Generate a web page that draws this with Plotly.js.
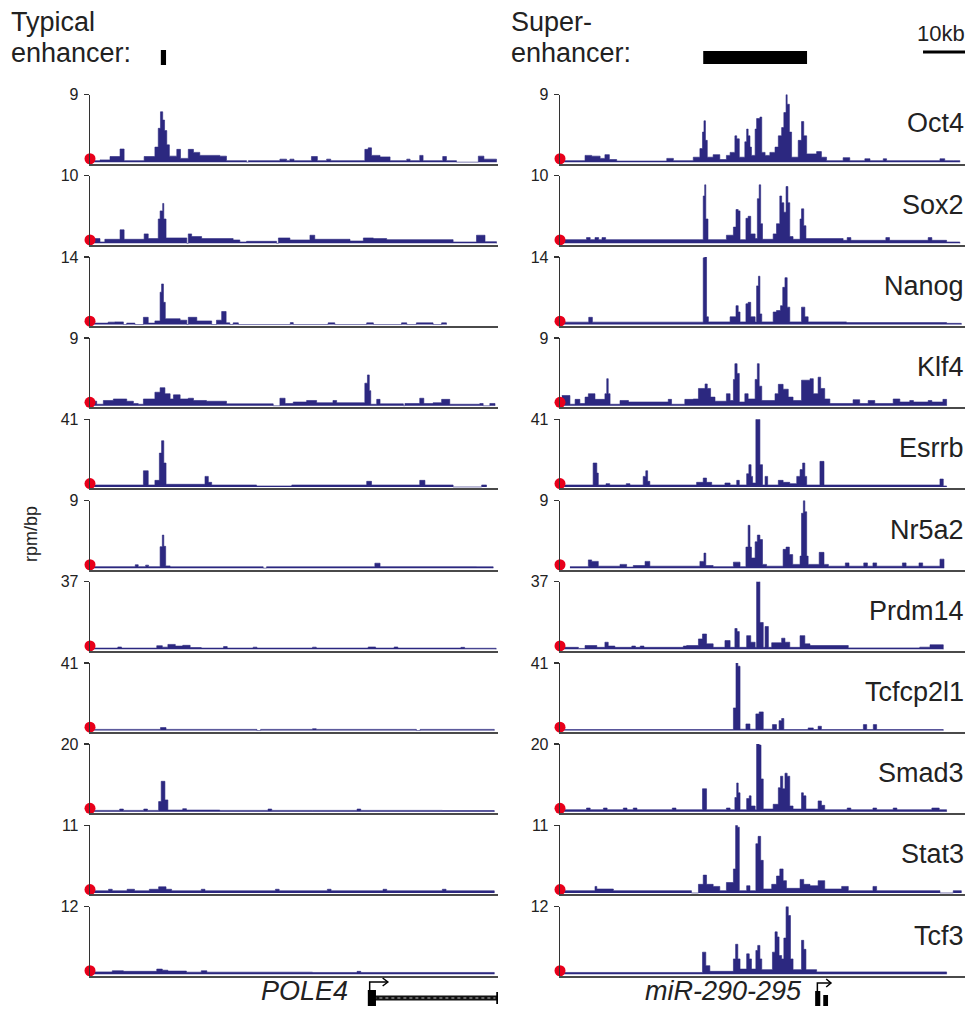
<!DOCTYPE html>
<html><head><meta charset="utf-8">
<script src="https://cdn.plot.ly/plotly-3.0.1.min.js"></script>
<style>html,body{margin:0;padding:0;background:#fff}#chart{width:969px;height:1021px}</style>
</head><body><div id="chart"></div>
<script>
// ---------- DATA ----------
const factors = ['Oct4','Sox2','Nanog','Klf4','Esrrb','Nr5a2','Prdm14','Tcfcp2l1','Smad3','Stat3','Tcf3'];
const yMax = [9,10,14,9,41,9,37,41,20,11,12];
// signal as step segments: [start, end, rpm/bp, ...] (x in genomic units, 0-110 per panel)
const L_oct4 = [0.9,2.7,0.2, 2.7,5.4,0.3, 5.4,8.1,0.75, 8.1,9.2,1.75, 9.2,14.6,0.2, 14.6,17.5,0.75, 17.5,18.4,2.0, 18.4,19.0,4.5, 19.0,19.6,6.7, 19.6,20.1,5.6, 20.1,20.7,4.2, 20.7,21.4,2.3, 21.4,23.4,0.8, 23.4,24.4,1.7, 24.4,26.5,0.5, 26.5,27.9,1.7, 27.9,29.6,1.3, 29.6,35.0,0.9, 35.0,36.8,0.8, 36.8,42.2,0.2, 42.7,51.2,0.2, 51.2,53.0,0.4, 53.0,53.9,0.2, 53.9,55.0,0.4, 55.0,59.7,0.2, 59.7,61.3,0.75, 61.3,63.8,0.2, 63.8,64.9,0.4, 64.9,74.1,0.2, 74.1,75.0,1.7, 75.0,75.9,1.9, 75.9,78.2,0.9, 78.2,80.9,0.7, 80.9,85.4,0.2, 85.4,86.3,0.4, 86.3,88.9,0.2, 88.9,89.8,0.9, 89.8,95.1,0.2, 95.1,96.1,0.75, 96.1,98.8,0.2, 104.7,106.2,0.8, 106.2,109.6,0.4];
const L_sox2 = [0.2,1.3,0.4, 1.3,2.7,0.7, 2.7,4.0,0.2, 4.0,8.1,0.6, 8.1,9.2,2.0, 9.2,14.6,0.6, 14.6,15.7,1.4, 15.7,18.4,0.7, 18.4,18.9,3.6, 18.9,19.6,4.8, 19.6,19.9,5.9, 19.9,20.5,3.6, 20.5,26.1,0.8, 26.5,27.4,1.4, 27.4,30.1,1.0, 30.1,38.6,0.7, 38.6,40.4,0.5, 40.4,42.2,0.2, 42.2,50.3,0.3, 50.8,53.9,0.8, 53.9,59.3,0.5, 59.3,60.6,1.2, 60.6,70.1,0.6, 70.1,73.7,0.35, 73.7,76.4,0.8, 76.4,80.0,0.7, 80.0,97.9,0.55, 97.9,104.2,0.2, 104.2,106.5,1.2, 106.5,109.6,0.25];
const L_nanog = [0.2,4.9,0.3, 4.9,6.7,0.5, 6.7,9.0,0.55, 9.9,12.1,0.3, 14.4,15.7,1.5, 15.7,17.5,0.3, 17.5,18.9,0.75, 18.9,19.3,6.7, 19.3,19.8,8.4, 19.8,20.3,4.6, 20.3,24.3,1.2, 24.3,26.1,0.9, 26.5,28.8,1.5, 28.8,32.8,0.75, 34.1,35.5,0.9, 35.5,36.7,2.7, 36.7,37.7,0.35, 38.6,40.0,0.35, 54.0,54.8,0.4, 64.2,66.0,0.35, 74.6,76.4,0.35, 84.0,85.4,0.35, 88.0,92.5,0.35, 94.8,96.1,0.35];
const L_klf4 = [0.2,1.8,0.6, 1.8,3.6,0.2, 3.6,6.3,0.7, 6.3,9.9,0.9, 9.9,11.7,0.6, 11.7,13.0,0.3, 13.0,14.4,0.2, 14.4,17.5,0.9, 17.5,18.9,1.8, 18.9,20.2,2.4, 20.2,21.6,1.6, 21.6,22.5,0.9, 22.5,24.3,1.45, 24.3,26.5,0.9, 26.5,27.9,1.0, 27.9,31.4,0.7, 31.4,36.8,0.6, 36.8,49.4,0.25, 51.2,52.6,1.0, 52.6,54.8,0.3, 54.8,58.4,0.5, 58.4,61.1,0.7, 61.1,74.1,0.4, 65.5,66.5,0.7, 74.1,74.8,3.0, 74.8,75.3,4.1, 75.3,75.7,2.0, 75.7,77.3,0.2, 77.3,78.2,0.85, 78.2,84.5,0.25, 84.9,88.9,0.3, 88.9,90.0,1.0, 90.0,92.5,0.3, 92.5,94.8,0.4, 94.8,97.0,0.85, 97.0,105.1,0.2, 105.1,106.0,0.3, 107.8,109.2,0.3];
const L_esrrb = [0.2,14.4,1.2, 14.4,15.7,9.8, 15.7,17.5,1.2, 17.5,18.7,4.0, 18.7,19.3,20.5, 19.3,19.9,28, 19.9,20.5,14.5, 20.5,31.0,1.6, 31.0,31.9,6.4, 31.9,32.8,2.8, 32.8,44.9,1.2, 44.9,54.4,0.6, 54.4,74.6,1.2, 74.6,75.9,3.4, 75.9,88.9,1.2, 88.9,90.3,4.0, 90.3,97.9,1.2, 105.6,106.9,1.2];
const L_nr5a2 = [0.4,18.9,0.2, 12.2,13.0,0.45, 15.0,15.8,0.4, 18.9,19.5,2.85, 19.5,19.9,4.4, 19.9,20.4,2.9, 20.4,21.6,0.3, 21.6,46.7,0.18, 47.6,76.8,0.18, 76.8,78.2,0.66, 78.2,104.2,0.2, 104.2,108.7,0.18];
const L_prdm14 = [0.5,18.0,0.7, 7.5,8.5,1.3, 18.0,19.5,2.0, 19.5,21.0,1.2, 21.0,23.0,2.7, 23.0,25.0,1.8, 25.0,27.0,2.2, 27.0,30.0,1.0, 30.0,36.0,0.7, 36.0,37.0,1.5, 37.0,44.0,0.7, 44.0,45.0,1.2, 45.0,60.0,0.7, 60.0,61.0,1.2, 61.0,75.0,0.7, 75.0,77.0,1.3, 77.0,82.0,0.7, 82.0,83.0,1.3, 83.0,100.0,0.7, 100.0,101.0,1.1, 101.0,109.5,0.6];
const L_tcfcp2l1 = [0.5,19.0,0.7, 19.0,20.5,1.8, 20.5,45.0,0.7, 46.0,60.0,0.7, 60.0,61.0,1.1, 61.0,88.0,0.7, 89.0,109.0,0.7];
const L_smad3 = [0.5,18.5,0.4, 8.0,9.0,0.8, 14.5,15.5,0.8, 18.5,19.2,3.0, 19.2,20.2,9.0, 20.2,21.0,3.5, 21.0,35.0,0.5, 25.0,26.0,0.9, 35.0,60.0,0.4, 48.0,49.0,0.8, 60.0,95.0,0.4, 72.0,73.0,0.8, 95.0,109.0,0.35];
const L_stat3 = [0.5,16.0,0.35, 5.0,6.0,0.6, 10.0,12.0,0.6, 16.0,18.5,0.6, 18.5,20.5,1.0, 20.5,22.0,0.6, 22.0,109.0,0.35, 30.0,31.0,0.6, 50.0,51.0,0.6, 64.0,65.0,0.6, 79.0,80.0,0.6, 95.0,96.0,0.6];
const L_tcf3 = [0.5,6.0,0.4, 6.0,9.0,0.6, 9.0,18.0,0.5, 18.0,19.5,0.9, 19.5,21.0,0.7, 21.0,26.0,0.55, 26.0,60.0,0.35, 30.0,31.5,0.6, 60.0,109.0,0.3, 72.0,73.0,0.5];

const R_oct4 = [0.5,6.8,0.2, 6.8,8.6,0.9, 8.6,10.9,0.8, 10.9,12.2,0.5, 12.2,13.4,1.0, 13.4,15.4,0.35, 15.4,29.0,0.15, 29.0,30.8,0.5, 30.8,36.2,0.2, 36.2,38.0,0.66, 38.0,38.7,1.8, 38.7,39.1,4.0, 39.1,39.5,5.5, 39.5,40.0,2.9, 40.0,41.6,0.66, 41.6,43.4,1.0, 43.4,45.2,0.35, 45.2,46.2,0.9, 46.2,47.5,1.3, 47.5,48.0,3.5, 48.0,48.7,3.1, 48.7,50.2,0.66, 50.2,50.7,2.7, 50.7,51.1,4.4, 51.1,51.6,3.5, 51.6,52.0,2.0, 52.0,53.0,0.9, 53.0,53.4,4.4, 53.4,54.3,5.8, 54.3,54.8,6.0, 54.8,55.7,1.3, 55.7,57.0,0.9, 57.0,58.4,1.3, 58.4,59.3,2.0, 59.3,60.2,3.5, 60.2,60.8,4.6, 60.8,61.4,6.6, 61.4,61.7,9.0, 61.7,62.3,7.7, 62.3,62.9,4.0, 62.9,64.7,0.66, 64.7,65.6,2.9, 65.6,66.2,5.4, 66.2,67.0,3.5, 67.0,69.7,1.1, 69.7,71.0,1.4, 71.0,72.4,0.66, 72.4,76.9,0.2, 76.9,78.7,0.6, 78.7,82.8,0.2, 82.8,84.2,0.45, 84.2,87.8,0.2, 87.8,88.7,0.45, 88.7,103.2,0.2, 103.2,104.5,0.45, 104.5,106.8,0.2, 106.8,108.6,0.2];
const R_sox2 = [0.5,38.0,0.55, 7.2,8.2,0.85, 9.5,10.5,0.85, 11.4,12.4,0.85, 38.0,38.9,0.55, 38.9,39.3,7.0, 39.3,39.6,8.65, 39.6,40.2,3.6, 40.2,45.2,0.55, 45.2,47.1,1.2, 47.1,47.8,2.4, 47.8,48.4,5.0, 48.4,48.9,4.8, 48.9,50.5,0.55, 50.5,51.1,3.7, 51.1,51.8,4.0, 51.8,53.0,1.4, 53.0,53.6,0.7, 53.6,54.1,6.6, 54.1,54.5,8.65, 54.5,55.0,2.9, 55.0,57.9,0.6, 57.9,58.8,1.4, 58.8,59.7,2.9, 59.7,60.2,7.0, 60.2,60.8,6.0, 60.8,61.4,4.6, 61.4,61.9,8.4, 61.9,62.4,6.0, 62.4,63.3,1.0, 63.3,65.2,0.6, 65.2,65.6,3.6, 65.6,66.2,5.1, 66.2,66.8,2.6, 66.8,76.9,0.7, 76.9,105.0,0.45, 78.0,79.0,0.85, 88.5,89.5,0.85, 100.0,101.0,0.85, 105.0,108.6,0.2];
const R_nanog = [0.5,38.9,0.5, 7.8,8.8,1.5, 38.9,39.3,13.8, 39.3,39.8,14.0, 39.8,40.3,1.6, 40.3,46.2,0.55, 46.2,47.8,1.6, 47.8,48.4,3.9, 48.4,48.9,2.6, 48.9,50.5,0.55, 50.5,51.1,4.3, 51.1,51.8,4.6, 51.8,53.0,1.6, 53.0,53.4,0.55, 53.4,53.9,8.0, 53.9,54.3,10.0, 54.3,54.8,2.2, 54.8,57.9,0.55, 57.9,58.8,2.6, 58.8,59.9,2.9, 59.9,60.5,3.9, 60.5,61.1,7.7, 61.1,61.7,9.7, 61.7,62.4,3.6, 62.4,65.6,0.55, 65.6,66.5,3.6, 66.5,67.4,1.6, 67.4,77.8,0.55, 77.8,105.0,0.4, 105.0,109.0,0.25];
const R_klf4 = [0.5,2.7,1.36, 2.7,4.1,0.2, 4.1,5.4,0.85, 5.4,6.8,0.3, 6.8,7.7,1.15, 7.7,9.5,1.6, 9.5,12.2,0.85, 12.2,12.7,1.6, 12.7,13.1,3.6, 13.1,13.6,1.6, 13.6,16.3,0.2, 16.3,18.6,0.7, 18.6,29.4,0.5, 29.4,30.3,0.85, 30.3,33.9,0.2, 33.9,36.2,0.85, 36.2,37.6,0.9, 37.6,39.4,2.3, 39.4,40.0,2.9, 40.0,40.9,2.3, 40.9,42.1,1.15, 42.1,45.2,0.6, 45.2,46.2,1.6, 46.2,47.1,0.7, 47.1,47.5,3.5, 47.5,48.1,5.6, 48.1,48.7,4.3, 48.7,50.2,0.5, 50.2,51.1,1.6, 51.1,53.0,0.9, 53.0,53.6,3.5, 53.6,54.1,5.6, 54.1,54.8,2.6, 54.8,58.4,0.7, 58.4,59.3,1.6, 59.3,60.6,2.85, 60.6,62.0,2.2, 62.0,63.3,1.15, 63.3,65.6,0.7, 65.6,67.9,3.4, 67.9,68.8,3.6, 68.8,70.1,1.6, 70.1,70.8,3.8, 70.8,71.9,2.3, 71.9,73.3,0.9, 73.3,79.6,0.3, 79.6,81.4,0.8, 81.4,83.7,0.3, 83.7,85.5,0.7, 85.5,90.5,0.3, 90.5,92.3,0.9, 92.3,104.0,0.5, 95.0,96.0,0.7, 100.0,101.0,0.7, 104.0,105.0,0.85];
const R_esrrb = [0.5,9.0,1.2, 9.0,10.0,14.5, 10.0,10.4,8.4, 10.4,22.6,1.2, 12.5,13.5,2.0, 18.0,19.0,2.0, 22.6,23.3,6.4, 23.3,23.8,9.8, 23.8,24.4,3.4, 24.4,37.1,1.2, 37.1,38.9,2.8, 38.9,39.8,5.4, 39.8,41.2,2.8, 41.2,44.8,1.2, 44.8,46.2,2.4, 46.2,48.0,1.2, 48.0,48.7,4.0, 48.7,50.7,1.2, 50.7,51.3,8.0, 51.3,51.9,13.5, 51.9,52.3,6.4, 52.3,53.2,2.4, 53.2,54.3,41, 54.3,55.0,13.5, 55.0,55.7,1.2, 55.7,56.4,6.4, 56.4,59.3,1.2, 59.3,60.6,4.0, 60.6,62.4,2.8, 62.4,64.3,2.0, 64.3,65.2,6.4, 65.2,65.9,10.5, 65.9,66.5,14.5, 66.5,67.0,6.4, 67.0,70.6,1.2, 70.6,71.7,15.5, 71.7,103.2,1.2, 103.2,104.1,4.8, 104.1,105.0,0.6];
const R_nr5a2 = [2.7,7.7,0.2, 7.7,8.6,1.1, 8.6,10.4,0.9, 10.4,16.3,0.26, 16.3,18.1,0.5, 18.1,19.9,0.15, 19.9,23.1,0.35, 23.1,24.4,0.9, 24.4,38.0,0.26, 38.0,39.1,0.9, 39.1,39.6,2.0, 39.6,41.6,0.35, 41.6,47.1,0.2, 47.1,48.9,0.8, 48.9,50.5,0.2, 50.5,51.1,2.8, 51.1,51.6,5.7, 51.6,52.0,2.8, 52.0,53.0,1.35, 53.0,53.6,3.5, 53.6,54.3,4.4, 54.3,55.0,3.8, 55.0,56.1,0.5, 56.1,60.6,0.26, 60.6,61.4,2.5, 61.4,62.3,2.8, 62.3,63.2,1.8, 63.2,65.2,0.5, 65.2,65.6,1.6, 65.6,66.1,7.3, 66.1,66.5,9.0, 66.5,67.0,7.5, 67.0,67.4,1.6, 67.4,70.4,0.5, 70.4,71.7,2.1, 71.7,72.9,0.5, 72.9,103.2,0.26, 77.5,78.5,0.7, 82.5,83.5,0.7, 85.0,86.0,0.7, 93.0,94.0,0.7, 97.5,98.5,0.7, 103.2,104.3,1.2];
const R_prdm14 = [0.5,5.0,1.1, 5.0,6.8,0.5, 6.8,10.0,2.1, 10.0,12.2,1.1, 12.2,13.1,3.9, 13.1,14.9,1.8, 14.9,34.4,1.1, 19.5,20.5,1.8, 21.8,22.8,1.8, 33.5,34.4,1.8, 34.4,37.6,2.1, 37.6,38.7,5.7, 38.7,39.8,8.4, 39.8,41.6,3.0, 41.6,44.8,1.1, 44.8,46.2,4.8, 46.2,47.5,1.1, 47.5,48.1,11.4, 48.1,48.7,9.7, 48.7,50.7,1.1, 50.7,51.8,7.5, 51.8,53.0,3.9, 53.0,53.4,1.1, 53.4,54.3,38, 54.3,55.2,14.7, 55.2,55.7,1.1, 55.7,56.6,12.5, 56.6,57.5,1.1, 57.5,60.2,3.6, 60.2,61.1,6.1, 61.1,62.4,3.9, 62.4,65.2,1.1, 65.2,66.5,7.5, 66.5,67.9,3.0, 67.9,78.3,2.1, 78.3,97.7,0.8, 97.7,100.5,1.2, 100.5,104.1,2.5];
const R_tcfcp2l1 = [0.5,47.1,0.6, 47.1,47.8,13.7, 47.8,48.3,41, 48.3,48.9,39, 48.9,50.5,0.8, 50.5,51.6,4.0, 51.6,53.2,0.8, 53.2,54.1,10.1, 54.1,55.2,11.3, 55.2,57.7,0.8, 57.7,58.8,3.6, 58.8,59.5,0.6, 59.5,60.2,6.0, 60.2,60.8,7.3, 60.8,67.4,0.6, 67.4,68.8,1.6, 68.8,70.1,0.6, 70.1,71.0,2.6, 71.0,82.4,0.6, 82.4,83.3,3.6, 83.3,85.1,0.6, 85.1,86.0,3.6, 86.0,104.1,0.6];
const R_smad3 = [0.5,38.7,0.6, 7.2,8.2,1.1, 11.8,12.8,1.1, 17.2,18.2,1.1, 19.9,20.9,1.1, 30.5,31.5,1.1, 38.7,39.8,6.8, 39.8,45.2,0.6, 45.2,46.2,1.1, 46.2,47.5,0.6, 47.5,48.0,4.2, 48.0,48.4,8.5, 48.4,48.9,5.6, 48.9,50.7,0.6, 50.7,51.4,3.9, 51.4,51.9,4.7, 51.9,53.0,1.7, 53.0,53.4,0.6, 53.4,54.1,20, 54.1,54.6,19.7, 54.6,55.2,9.7, 55.2,57.9,0.8, 57.9,59.3,2.2, 59.3,59.9,7.1, 59.9,60.5,10.5, 60.5,61.1,6.8, 61.1,61.7,11.4, 61.7,62.4,10.5, 62.4,63.3,1.7, 63.3,65.6,0.8, 65.6,66.1,5.6, 66.1,66.8,4.7, 66.8,70.1,0.8, 70.1,71.0,3.2, 71.0,71.9,1.9, 71.9,105.0,0.6, 78.0,79.0,1.1, 85.0,86.0,1.1, 90.5,91.5,1.1, 101.0,103.0,1.1];
const R_stat3 = [0.5,9.5,0.37, 9.5,10.0,1.06, 10.0,14.5,0.64, 14.5,35.7,0.37, 37.6,38.9,1.4, 38.9,39.8,2.9, 39.8,41.6,1.4, 41.6,43.4,1.06, 43.4,45.2,0.37, 45.2,47.1,1.7, 47.1,47.7,3.9, 47.7,48.2,11, 48.2,48.7,10.7, 48.7,50.7,0.37, 50.7,51.6,1.17, 51.6,53.2,0.37, 53.2,53.8,8.0, 53.8,54.5,9.2, 54.5,55.2,5.3, 55.2,57.5,0.64, 57.5,58.8,1.4, 58.8,59.7,2.75, 59.7,60.6,3.9, 60.6,61.5,2.0, 61.5,65.2,0.75, 65.2,66.2,2.2, 66.2,67.9,1.4, 67.9,70.1,1.17, 70.1,71.9,2.0, 71.9,76.5,0.64, 76.5,78.3,1.06, 78.3,103.2,0.37, 85.0,86.0,1.06, 106.8,109.0,0.37];
const R_tcf3 = [0.5,38.7,0.3, 38.7,39.6,3.9, 39.6,40.7,1.5, 40.7,47.1,0.5, 47.1,47.7,2.7, 47.7,48.3,5.3, 48.3,48.9,2.7, 48.9,50.7,0.9, 50.7,51.4,3.6, 51.4,52.0,2.7, 52.0,53.2,0.9, 53.2,53.7,4.2, 53.7,54.3,5.1, 54.3,54.8,2.7, 54.8,57.7,0.8, 57.7,58.4,3.9, 58.4,59.0,7.5, 59.0,59.5,6.6, 59.5,60.2,3.3, 60.2,60.8,2.7, 60.8,61.4,6.4, 61.4,62.0,12, 62.0,62.6,10.4, 62.6,63.3,2.7, 63.3,65.6,0.8, 65.6,66.2,6.0, 66.2,66.8,4.4, 66.8,69.7,0.8, 69.7,105.0,0.4];

const leftSegs  = [L_oct4,L_sox2,L_nanog,L_klf4,L_esrrb,L_nr5a2,L_prdm14,L_tcfcp2l1,L_smad3,L_stat3,L_tcf3];
const rightSegs = [R_oct4,R_sox2,R_nanog,R_klf4,R_esrrb,R_nr5a2,R_prdm14,R_tcfcp2l1,R_smad3,R_stat3,R_tcf3];

const typicalEnhancer = [19.1, 20.5];   // left panel
const superEnhancer   = [38.9, 67.1];   // right panel
const scaleBar        = [98.6, 110.0];  // right panel, "10kb"
const geneNames = ['POLE4', 'miR-290-295'];
const geneStart = [74.9, 69.3];
const geneEnd   = [109.8, 73.1];

// ---------- LAYOUT ----------
const W = 969, H = 1021;
const NAVY = '#2c2880';
const FONT = 'Liberation Sans, Arial, Helvetica, sans-serif';
const px = v => v / W;
const py = v => 1 - v / H;
const colDom = [[90/W, 498/W], [560/W, 965/W]];
const trackTop = i => 94.5 + 81.2 * i;
const trackH = 69;

// turn (possibly overlapping) segments into one step outline: highest value wins
function toSteps(segs) {
  const cuts = [];
  for (let j = 0; j < segs.length; j += 3) cuts.push(segs[j], segs[j+1]);
  const b = Array.from(new Set(cuts)).sort((a, c) => a - c);
  const xs = [], ys = [];
  for (let n = 0; n < b.length - 1; n++) {
    const m = (b[n] + b[n+1]) / 2;
    let v = 0;
    for (let j = 0; j < segs.length; j += 3) if (segs[j] <= m && m < segs[j+1] && segs[j+2] > v) v = segs[j+2];
    xs.push(b[n]); ys.push(v);
  }
  xs.push(b[b.length - 1]); ys.push(0);
  return {xs, ys};
}

const data = [];
const layout = {
  width: W, height: H, margin: {l:0, r:0, t:0, b:0},
  paper_bgcolor: '#fff', plot_bgcolor: 'rgba(0,0,0,0)',
  showlegend: false,
  font: {family: FONT, color: '#222'},
  annotations: [], shapes: []
};

function addTrack(col, i, segs) {
  const k = col * 11 + i + 1;
  const xa = 'x' + (k === 1 ? '' : k), ya = 'y' + (k === 1 ? '' : k);
  const st = toSteps(segs);
  data.push({type:'scatter', mode:'lines', x: st.xs, y: st.ys, xaxis: xa, yaxis: ya,
    line: {shape:'hv', width: 0.6, color: NAVY}, fill: 'tozeroy', fillcolor: NAVY, hoverinfo: 'skip'});
  const m = yMax[i];
  data.push({type:'scatter', mode:'markers', x:[0], y:[m*0.05], xaxis: xa, yaxis: ya,
    marker: {color:'#e8001b', size: 11}, cliponaxis: false, hoverinfo:'skip'});
  const top = trackTop(i), bot = top + trackH;
  layout['xaxis' + (k === 1 ? '' : k)] = {
    domain: colDom[col], range: [0, 110], anchor: ya,
    showline: true, linecolor: '#4a4a4a', linewidth: 2,
    showticklabels: false, ticks: '', showgrid: false, zeroline: false, fixedrange: true
  };
  layout['yaxis' + (k === 1 ? '' : k)] = {
    domain: [py(bot), py(top)], range: [-m * 0.02, m], anchor: xa,
    showline: true, linecolor: '#333', linewidth: 1.3,
    ticks: 'outside', ticklen: 5, tickwidth: 1.3, tickcolor: '#333',
    tickvals: [m], ticktext: [String(m)], tickfont: {size: 16, color: '#222', family: FONT},
    ticklabelstandoff: 2,
    showgrid: false, zeroline: false, fixedrange: true
  };
  if (col === 1) {
    layout.annotations.push({xref:'paper', yref:'paper', x: px(966), y: py(top + 29),
      xanchor:'right', yanchor:'middle', text: factors[i], showarrow:false,
      font:{size: 27, color:'#222', family: FONT}});
  }
}
for (let i = 0; i < 11; i++) { addTrack(0, i, leftSegs[i]); addTrack(1, i, rightSegs[i]); }

const A = layout.annotations, S = layout.shapes;
const txt = (x, y, t, size, opts) => A.push(Object.assign({xref:'paper', yref:'paper', x: px(x), y: py(y),
  xanchor:'left', yanchor:'middle', text: t, showarrow:false, font:{size: size, color:'#222', family: FONT}}, opts || {}));
txt(9, 22, 'Typical', 27);
txt(9, 53, 'enhancer:', 27);
txt(509, 22, 'Super-', 27);
txt(509, 53, 'enhancer:', 27);
txt(967, 33, '10kb', 22, {xanchor:'right'});
txt(31, 534, 'rpm/bp', 18, {xanchor:'center', textangle:-90});
txt(350, 991, '<i>' + geneNames[0] + '</i>', 27, {xanchor:'right'});
txt(804, 991, '<i>' + geneNames[1] + '</i>', 27, {xanchor:'right'});

// enhancer bars and scale bar
S.push({type:'rect', xref:'x', yref:'paper', x0: typicalEnhancer[0], x1: typicalEnhancer[1], y0: py(65), y1: py(50), fillcolor:'#000', line:{width:0}});
S.push({type:'rect', xref:'x12', yref:'paper', x0: superEnhancer[0], x1: superEnhancer[1], y0: py(64), y1: py(51), fillcolor:'#000', line:{width:0}});
S.push({type:'line', xref:'x12', yref:'paper', x0: scaleBar[0], x1: scaleBar[1], y0: py(52), y1: py(52), line:{color:'#000', width:3}});

// POLE4 gene model (left panel)
{
  const s = geneStart[0], e = geneEnd[0];
  S.push({type:'line', xref:'x', yref:'paper', x0: s + 1.5, x1: e, y0: py(998), y1: py(998), line:{color:'#111', width:5}});
  S.push({type:'line', xref:'x', yref:'paper', x0: s + 1.5, x1: e - 0.5, y0: py(998), y1: py(998), line:{color:'#bbb', width:1.2, dash:'3px,3px'}});
  S.push({type:'rect', xref:'x', yref:'paper', x0: s, x1: s + 2.2, y0: py(1006), y1: py(990), fillcolor:'#000', line:{width:0}});
  S.push({type:'line', xref:'x', yref:'paper', x0: e, x1: e, y0: py(1004), y1: py(992), line:{color:'#000', width:2}});
  S.push({type:'path', xref:'x', yref:'paper', path: `M ${s+0.5} ${py(990)} L ${s+0.5} ${py(982)} L ${s+5.2} ${py(982)}`, line:{color:'#000', width:1.5}});
  S.push({type:'path', xref:'x', yref:'paper', path: `M ${s+4.0} ${py(978)} L ${s+5.4} ${py(982)} L ${s+4.0} ${py(986)}`, line:{color:'#000', width:1.5}});
}
// miR-290-295 gene model (right panel)
{
  const s = geneStart[1], e = geneEnd[1];
  S.push({type:'rect', xref:'x12', yref:'paper', x0: s, x1: s + 1.4, y0: py(1006), y1: py(991), fillcolor:'#000', line:{width:0}});
  S.push({type:'rect', xref:'x12', yref:'paper', x0: s + 2.2, x1: e - 0.3, y0: py(1006), y1: py(995), fillcolor:'#000', line:{width:0}});
  S.push({type:'path', xref:'x12', yref:'paper', path: `M ${s+0.6} ${py(991)} L ${s+0.6} ${py(983)} L ${e+0.3} ${py(983)}`, line:{color:'#000', width:1.5}});
  S.push({type:'path', xref:'x12', yref:'paper', path: `M ${e-0.8} ${py(979)} L ${e+0.5} ${py(983)} L ${e-0.8} ${py(987)}`, line:{color:'#000', width:1.5}});
}

Plotly.newPlot('chart', data, layout, {displayModeBar: false, staticPlot: true});
</script>
</body></html>
